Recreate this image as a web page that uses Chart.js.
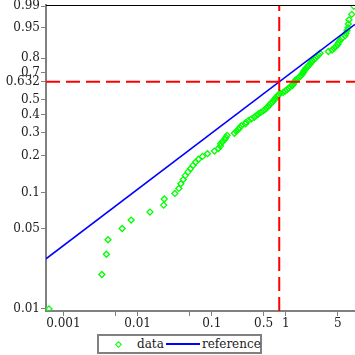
<!DOCTYPE html>
<html>
<head>
<meta charset="utf-8">
<script src="https://cdn.jsdelivr.net/npm/chart.js@4/dist/chart.umd.min.js"></script>
<style>
html, body { margin: 0; padding: 0; background: #fff; }
#wrap { position: relative; width: 355px; height: 355px; }
#legend {
    position: absolute; left: 97px; top: 334px; width: 165px; height: 20px;
    border: 2px solid #808080; box-sizing: border-box; background: #fff;
    font: 12px "DejaVu Serif"; color: #222;
}
#legend span { position: absolute; }
.mark { left: 17px; top: 6px; width: 3px; height: 3px; border: 1.3px solid #00ff00; transform: rotate(45deg); }
.swatch { left: 67px; top: 7px; width: 34px; height: 2px; background: #0000ff; }
</style>
</head>
<body>
<div id="wrap">
  <canvas id="myChart" width="355" height="355"></canvas>
  <div id="legend">
    <span class="mark"></span><span style="left:38px;top:1px">data</span>
    <span class="swatch"></span><span style="left:103px;top:1px">reference</span>
  </div>
</div>
<script>
// tick values
const xTicks = [0.001, 0.005, 0.01, 0.05, 0.1, 0.5, 1, 5];
const xTickLabels = ['0.001', '', '0.01', '', '0.1', '0.5', '1', '5'];
const yTickProbs = [0.01, 0.05, 0.1, 0.2, 0.3, 0.4, 0.5, 0.632, 0.7, 0.8, 0.95, 0.99];
const yTickLabels = ['0.01', '0.05', '0.1', '0.2', '0.3', '0.4', '0.5', '0.632', '0.7', '0.8', '0.95', '0.99'];

// sample (x) and plotting position (probability)
const dataX = [
    0.00064, 0.0033, 0.0038, 0.0040, 0.0062, 0.0082, 0.0147, 0.0225, 0.0229, 0.0318,
    0.0360, 0.0383, 0.0413, 0.0439, 0.0479, 0.0517, 0.0559, 0.0604, 0.0663, 0.0750,
    0.0876, 0.109, 0.123, 0.131, 0.132, 0.139, 0.150, 0.155, 0.161, 0.202,
    0.215, 0.229, 0.239, 0.251, 0.284, 0.290, 0.311, 0.342, 0.375, 0.399,
    0.425, 0.458, 0.496, 0.527, 0.556, 0.578, 0.597, 0.625, 0.654, 0.686,
    0.707, 0.730, 0.764, 0.788, 0.838, 0.920, 0.979, 1.04, 1.09, 1.14,
    1.22, 1.25, 1.29, 1.31, 1.35, 1.42, 1.49, 1.56, 1.63, 1.68,
    1.72, 1.76, 1.82, 1.87, 1.96, 2.03, 2.12, 2.19, 2.26, 2.40,
    2.52, 2.63, 2.76, 2.89, 3.74, 4.19, 4.46, 4.74, 5.00, 5.13,
    5.37, 5.71, 6.27, 6.46, 6.67, 6.88, 6.94, 7.09, 7.71, 8.28
];
const dataP = [
    0.010, 0.020, 0.030, 0.040, 0.050, 0.059, 0.069, 0.079, 0.089, 0.099,
    0.109, 0.119, 0.129, 0.139, 0.149, 0.158, 0.168, 0.178, 0.188, 0.198,
    0.208, 0.218, 0.228, 0.238, 0.248, 0.257, 0.267, 0.277, 0.287, 0.297,
    0.307, 0.317, 0.327, 0.337, 0.347, 0.356, 0.366, 0.376, 0.386, 0.396,
    0.406, 0.416, 0.426, 0.436, 0.446, 0.455, 0.465, 0.475, 0.485, 0.495,
    0.505, 0.515, 0.525, 0.535, 0.545, 0.554, 0.564, 0.574, 0.584, 0.594,
    0.604, 0.614, 0.624, 0.634, 0.644, 0.653, 0.663, 0.673, 0.683, 0.693,
    0.703, 0.713, 0.723, 0.733, 0.743, 0.752, 0.762, 0.772, 0.782, 0.792,
    0.802, 0.812, 0.822, 0.832, 0.842, 0.851, 0.861, 0.871, 0.881, 0.891,
    0.901, 0.911, 0.921, 0.931, 0.941, 0.950, 0.960, 0.970, 0.980, 0.990
];

// reference weibull line
const refShape = 0.495;
const refScale = 0.813;

const xMin = 0.000583, xMax = 8.54;
const pMin = 0.0096, pMax = 0.9912;

function wb(p) {
    return Math.log(-Math.log(1 - p));
}
const yMin = wb(pMin), yMax = wb(pMax);

Chart.defaults.font.family = 'DejaVu Serif';
Chart.defaults.font.size = 12;
Chart.defaults.color = '#222';

const topLine = {
    id: 'topLine',
    afterDatasetsDraw(chart) {
        const {ctx, chartArea: a} = chart;
        ctx.save();
        ctx.strokeStyle = '#000';
        ctx.lineWidth = 1;
        ctx.beginPath();
        ctx.moveTo(a.left, a.top + 0.5);
        ctx.lineTo(a.right, a.top + 0.5);
        ctx.stroke();
        ctx.restore();
    }
};

const ctx = document.getElementById('myChart');
new Chart(ctx, {
    type: 'scatter',
    data: {
        datasets: [{
            label: 'data',
            data: dataX.map((x, i) => ({x: x, y: wb(dataP[i])})),
            pointStyle: 'rectRot',
            pointRadius: 3,
            borderColor: '#00ff00',
            backgroundColor: 'rgba(0,0,0,0)',
            borderWidth: 1.3,
            order: 3
        }, {
            label: 'reference',
            data: [xMin, xMax].map(x => ({x: x, y: refShape * Math.log(x / refScale)})),
            showLine: true,
            pointRadius: 0,
            borderColor: '#0000ff',
            borderWidth: 1.6,
            order: 2
        }, {
            label: 'h',
            data: [{x: xMin, y: 0}, {x: xMax, y: 0}],
            showLine: true,
            pointRadius: 0,
            borderColor: '#ff0000',
            borderWidth: 2,
            borderDash: [14, 6],
            order: 1
        }, {
            label: 'v',
            data: [{x: refScale, y: yMin}, {x: refScale, y: yMax}],
            showLine: true,
            pointRadius: 0,
            borderColor: '#ff0000',
            borderWidth: 2,
            borderDash: [14, 6],
            order: 1
        }]
    },
    options: {
        responsive: false,
        animation: false,
        devicePixelRatio: 1,
        layout: {autoPadding: false, padding: {top: 5, left: 0, right: 0, bottom: 0}},
        plugins: {
            legend: {display: false},
            tooltip: {enabled: false}
        },
        scales: {
            x: {
                type: 'logarithmic',
                min: xMin,
                max: xMax,
                afterBuildTicks: s => { s.ticks = xTicks.map(v => ({value: v})); },
                afterFit: s => { s.height = 44; s.paddingLeft = 0; s.paddingRight = 0; },
                ticks: {
                    autoSkip: false,
                    maxRotation: 0,
                    padding: 1,
                    callback: (v, i) => xTickLabels[i]
                },
                grid: {drawOnChartArea: false, tickLength: 5, color: '#808080'},
                border: {color: '#808080', width: 2}
            },
            y: {
                type: 'linear',
                min: yMin,
                max: yMax,
                afterBuildTicks: s => { s.ticks = yTickProbs.map(p => ({value: wb(p)})); },
                afterFit: s => { s.width = 46; s.paddingTop = 0; s.paddingBottom = 0; },
                ticks: {
                    autoSkip: false,
                    padding: 1,
                    callback: (v, i) => yTickLabels[i]
                },
                grid: {drawOnChartArea: false, tickLength: 5, color: '#808080'},
                border: {color: '#808080', width: 2}
            }
        }
    },
    plugins: [topLine]
});
</script>
</body>
</html>
